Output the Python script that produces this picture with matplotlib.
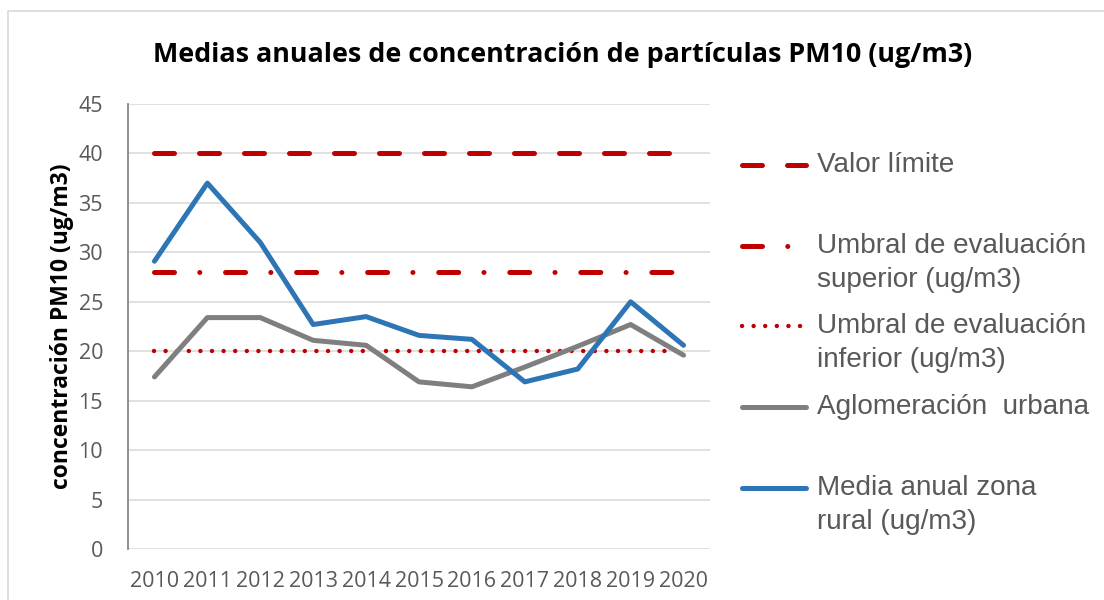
import numpy as np
import matplotlib.pyplot as plt
from matplotlib.lines import Line2D

years = ['2010', '2011', '2012', '2013', '2014', '2015', '2016', '2017', '2018', '2019', '2020']
rural = [29.1, 37.0, 31.0, 22.7, 23.5, 21.6, 21.2, 16.9, 18.2, 25.0, 20.6]
urbana = [17.4, 23.4, 23.4, 21.1, 20.6, 16.9, 16.4, 18.4, 20.5, 22.7, 19.6]
valor_limite = 40
umbral_superior = 28
umbral_inferior = 20

labels = ['Valor límite',
          'Umbral de evaluación\nsuperior (ug/m3)',
          'Umbral de evaluación\ninferior (ug/m3)',
          'Aglomeración  urbana',
          'Media anual zona\nrural (ug/m3)']

W, H = 1104, 600
fig = plt.figure(figsize=(W / 100, H / 100), dpi=100)

def fx(px):
    return px / W

def fy(py):
    return 1 - py / H

ax = fig.add_axes([fx(128), fy(549), fx(710) - fx(128), fy(104) - fy(549)])

x = np.arange(len(years))
red = '#c00000'
blue = '#2e75b6'
gray = '#7f7f7f'
txt = '#595959'

dash_lim = (0, (4, 5))
dash_sup = (0, (4, 5.05, 0.01, 5.15))
dot_inf = (0, (0.01, 2.6))

ax.plot(x, [valor_limite] * len(x), color=red, lw=3.6, linestyle=dash_lim,
        dash_capstyle='round', zorder=3)
ax.plot(x, [umbral_superior] * len(x), color=red, lw=3.6, linestyle=dash_sup,
        dash_capstyle='round', zorder=3)
ax.plot(x, [umbral_inferior] * len(x), color=red, lw=3.2, linestyle=dot_inf,
        dash_capstyle='round', zorder=3)
ax.plot(x, urbana, color=gray, lw=3.6, solid_capstyle='round',
        solid_joinstyle='round', zorder=4)
ax.plot(x, rural, color=blue, lw=3.6, solid_capstyle='round',
        solid_joinstyle='round', zorder=5)

ax.set_xlim(-0.5, len(years) - 0.5)
ax.set_ylim(0, 45)
ax.set_yticks(np.arange(0, 46, 5))
ax.set_xticks(x)
ax.set_xticklabels(years)
ax.grid(axis='y', color='#d9d9d9', lw=1.1)
ax.set_axisbelow(True)
for s in ['top', 'right', 'bottom']:
    ax.spines[s].set_visible(False)
ax.spines['left'].set_color('#868686')
ax.spines['left'].set_linewidth(1.3)
ax.tick_params(length=0, labelcolor=txt, labelsize=15.5)
ax.tick_params(axis='y', pad=18)
ax.tick_params(axis='x', pad=16)
for t in ax.get_xticklabels() + ax.get_yticklabels():
    t.set_family('Open Sans')

ax.set_ylabel('concentración PM10 (ug/m3)', fontsize=16.5, fontweight='bold',
              family='Open Sans')
ax.yaxis.set_label_coords((74 - 128) / 582, 0.5)

fig.text(fx(563), fy(55), 'Medias anuales de concentración de partículas PM10 (ug/m3)',
         ha='center', va='center', fontsize=19.4, fontweight='bold', family='Open Sans')

# legend drawn by hand
styles = [
    dict(color=red, lw=3.6, linestyle=dash_lim, dash_capstyle='round'),
    dict(color=red, lw=3.6, linestyle=dash_sup, dash_capstyle='round'),
    dict(color=red, lw=3.2, linestyle=dot_inf, dash_capstyle='round'),
    dict(color=gray, lw=3.6, solid_capstyle='round'),
    dict(color=blue, lw=3.6, solid_capstyle='round'),
]
rows = [165, 246, 326, 407, 488]
for lab, st, yy in zip(labels, styles, rows):
    fig.add_artist(Line2D([fx(742), fx(806)], [fy(yy), fy(yy)],
                          transform=fig.transFigure, **st))
    for k, line in enumerate(lab.split('\n')):
        fig.text(fx(817), fy(yy + 34 * k), line, ha='left', va='center',
                 fontsize=20.1, color=txt, family='Liberation Sans')

# chart border
fig.add_artist(Line2D([fx(8), fx(8), fx(1110)], [fy(610), fy(11), fy(11)],
                      transform=fig.transFigure, color='#d9d9d9', lw=1.2))

fig.savefig('out.png', dpi=100)
